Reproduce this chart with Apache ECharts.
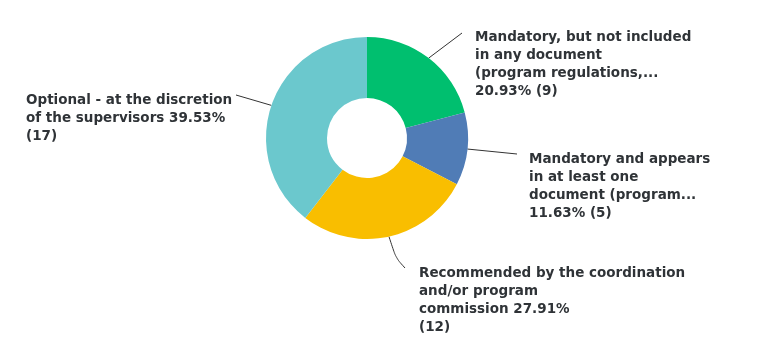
<!DOCTYPE html>
<html><head><meta charset="utf-8">
<script src="https://cdn.jsdelivr.net/npm/echarts@6/dist/echarts.min.js"></script>
<style>html,body{margin:0;padding:0;background:#fff}#c{width:766px;height:353px}</style>
</head><body><div id="c"></div>
<script>
const categories = [
  "Mandatory, but not included\nin any document\n(program regulations,...",
  "Mandatory and appears\nin at least one\ndocument (program...",
  "Recommended by the coordination\nand/or program\ncommission",
  "Optional - at the discretion\nof the supervisors"
];
const percents = ["20.93%", "11.63%", "27.91%", "39.53%"];
const counts = [9, 5, 12, 17];
const colors = ["#00BF6F", "#507CB6", "#F9BE00", "#6BC8CD"];
const labelSuffixSep = ["\n", "\n", " ", " "];
const countSep = [" ", " ", "\n", "\n"];
const labelPos = [[475, 28], [529, 150], [419, 264], [26, 91]];
const lineEnds = [[[462, 33]], [[517, 154]], [[396, 258], [405, 268]], [[236, 95]]];

const chart = echarts.init(document.getElementById('c'), null, {renderer: 'canvas'});
chart.setOption({
  animation: false,
  series: [{
    type: 'pie',
    center: [367, 138],
    radius: [40, 101],
    startAngle: 90,
    clockwise: true,
    itemStyle: {borderColor: '#fff', borderWidth: 0},
    label: {
      show: true,
      color: '#2f3337',
      fontFamily: 'DejaVu Sans',
      fontWeight: 'bold',
      fontSize: 13.5,
      lineHeight: 18,
      formatter: p => categories[p.dataIndex] + labelSuffixSep[p.dataIndex] + percents[p.dataIndex] + countSep[p.dataIndex] + '(' + counts[p.dataIndex] + ')'
    },
    labelLine: {show: true, length: 20, length2: 10, smooth: 0.3, lineStyle: {color: '#333', width: 1}},
    labelLayout: p => {
      const i = p.dataIndex;
      const start = p.labelLinePoints ? p.labelLinePoints[0] : null;
      const out = {x: labelPos[i][0], y: labelPos[i][1], align: 'left', verticalAlign: 'top'};
      if (start) out.labelLinePoints = [start].concat(lineEnds[i]);
      return out;
    },
    data: counts.map((v, i) => ({value: v, name: categories[i], itemStyle: {color: colors[i]}}))
  }]
});
</script></body></html>
